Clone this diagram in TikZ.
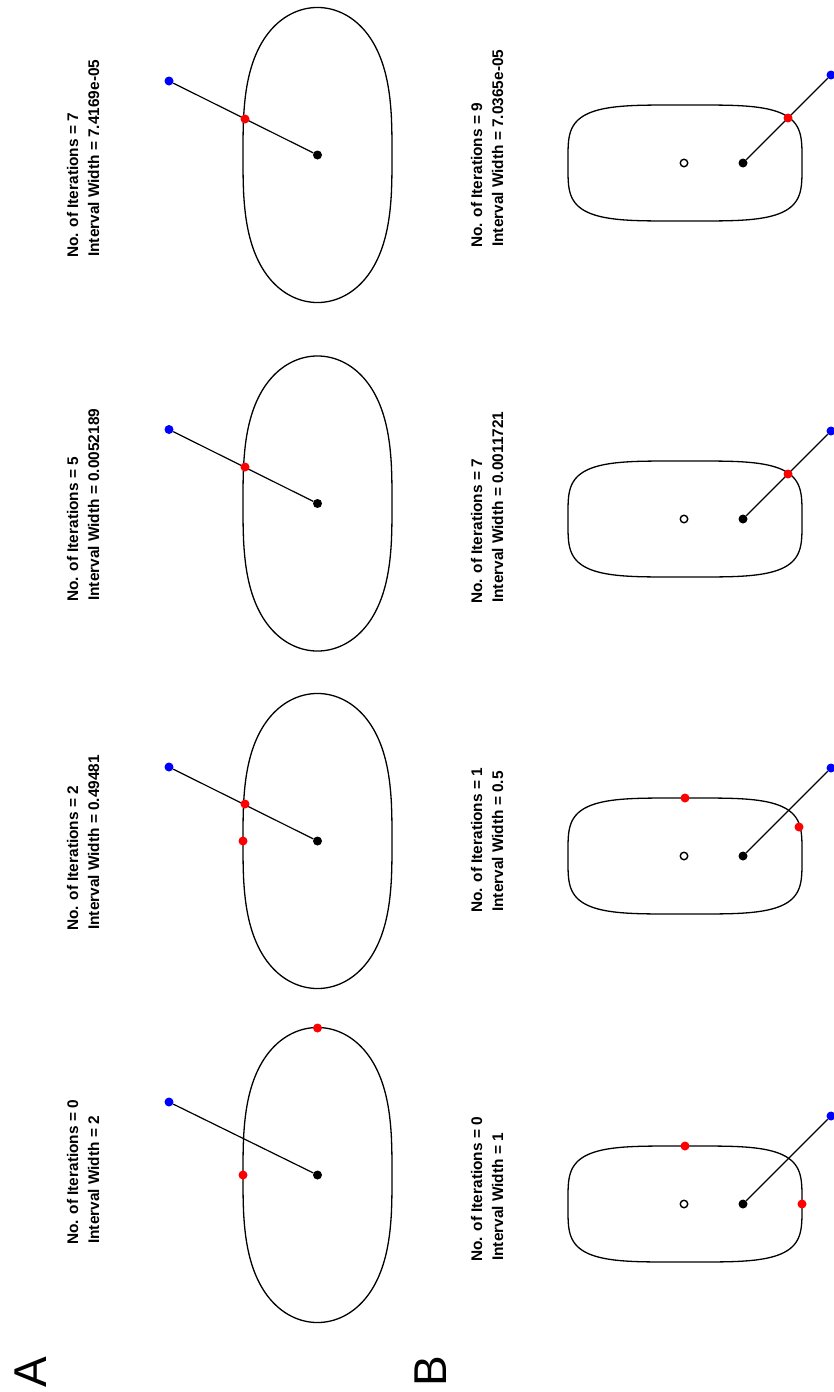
\documentclass[tikz,border=0pt]{standalone}
\usepackage{fontspec}
\setmainfont{Liberation Sans}
\usepackage{xcolor}
\usepackage{tikz}
\usetikzlibrary{positioning}
\definecolor{guessred}{RGB}{255, 0, 0}
\definecolor{startblue}{RGB}{0, 0, 255}
\definecolor{centreblack}{RGB}{0, 0, 0}

\begin{document}
\begin{tikzpicture}[x=1pt, y=-1pt,
    dot/.style={circle, inner sep=0pt, minimum size=9pt},
    guess/.style={dot, fill=guessred},
    start/.style={dot, fill=startblue},
    centre/.style={dot, fill=centreblack},
    hollow/.style={circle, draw=black, fill=white, line width=1.4pt, inner sep=0pt, minimum size=7.5pt},
    ray/.style={line width=1.2pt, black},
    blob/.style={line width=1.3pt, black},
    info/.style={rotate=90, anchor=base west, inner sep=0pt, font=\fontsize{15.4}{18}\selectfont\bfseries},
    panel/.style={rotate=90, inner sep=0pt, font=\fontsize{46}{46}\selectfont}]

    \useasboundingbox (0,0) rectangle (833,1392);

    % Panel letters
    \node[panel] at (31,1372) (pA) {A};
    \node[panel] at (431,1371) (pB) {B};

    % Row A outlines
    \foreach \cy in {1175,841,503.5,155}
        \draw[blob] plot[domain=0.5:360.5, samples=361] ({317.5+74.5*cos(\x)}, {\cy+147.5*sign(sin(\x))*abs(sin(\x))^(2/3)}) -- cycle;

    % Row B outlines
    \foreach \cy in {1204,856,519,163}
        \draw[blob] plot[domain=0.5:360.5, samples=361] ({685+117*sign(cos(\x))*abs(cos(\x))^(1/2)}, {\cy+58*sign(sin(\x))*abs(sin(\x))^(1/2)}) -- cycle;

    % A1
    \node[info] at (78,1245) (nA1) {No. of Iterations = 0};
    \node[info] at (99,1244) (wA1) {Interval Width = 2};
    \node[centre] at (317.5,1175) (kA1) {};
    \node[start] at (169,1102) (bA1) {};
    \draw[ray] (kA1) -- (bA1);
    \node[guess] at (243,1175) (rA1a) {};
    \node[guess] at (317.5,1028) (rA1b) {};

    % A2
    \node[info] at (78,931) (nA2) {No. of Iterations = 2};
    \node[info] at (99,930) (wA2) {Interval Width = 0.49481};
    \node[centre] at (317.5,841) (kA2) {};
    \node[start] at (169,767) (bA2) {};
    \draw[ray] (kA2) -- (bA2);
    \node[guess] at (245,804) (rA2a) {};
    \node[guess] at (243,841) (rA2b) {};

    % A3
    \node[info] at (78,602) (nA3) {No. of Iterations = 5};
    \node[info] at (99,601) (wA3) {Interval Width = 0.0052189};
    \node[centre] at (317.5,503.5) (kA3) {};
    \node[start] at (169,429.5) (bA3) {};
    \draw[ray] (kA3) -- (bA3);
    \node[guess] at (245,467) (rA3) {};

    % A4
    \node[info] at (78,258) (nA4) {No. of Iterations = 7};
    \node[info] at (99,257) (wA4) {Interval Width = 7.4169e-05};
    \node[centre] at (317.5,155) (kA4) {};
    \node[start] at (169,81) (bA4) {};
    \draw[ray] (kA4) -- (bA4);
    \node[guess] at (245,119) (rA4) {};

    % B1
    \node[info] at (482,1262) (nB1) {No. of Iterations = 0};
    \node[info] at (503,1261) (wB1) {Interval Width = 1};
    \node[hollow] at (684,1204) (oB1) {};
    \node[centre] at (743,1204) (kB1) {};
    \node[start] at (831,1116) (bB1) {};
    \draw[ray] (kB1) -- (bB1);
    \node[guess] at (685,1146) (rB1a) {};
    \node[guess] at (802,1204) (rB1b) {};

    % B2
    \node[info] at (482,913) (nB2) {No. of Iterations = 1};
    \node[info] at (503,912) (wB2) {Interval Width = 0.5};
    \node[hollow] at (684,856) (oB2) {};
    \node[centre] at (743,856) (kB2) {};
    \node[start] at (831,768) (bB2) {};
    \draw[ray] (kB2) -- (bB2);
    \node[guess] at (685,798) (rB2a) {};
    \node[guess] at (799,827) (rB2b) {};

    % B3
    \node[info] at (482,604) (nB3) {No. of Iterations = 7};
    \node[info] at (503,603) (wB3) {Interval Width = 0.0011721};
    \node[hollow] at (684,519) (oB3) {};
    \node[centre] at (743,519) (kB3) {};
    \node[start] at (831,431) (bB3) {};
    \draw[ray] (kB3) -- (bB3);
    \node[guess] at (788,474) (rB3) {};

    % B4
    \node[info] at (482,248) (nB4) {No. of Iterations = 9};
    \node[info] at (503,247) (wB4) {Interval Width = 7.0365e-05};
    \node[hollow] at (684,163) (oB4) {};
    \node[centre] at (743,163) (kB4) {};
    \node[start] at (831,75) (bB4) {};
    \draw[ray] (kB4) -- (bB4);
    \node[guess] at (788,118) (rB4) {};

\end{tikzpicture}
\end{document}
